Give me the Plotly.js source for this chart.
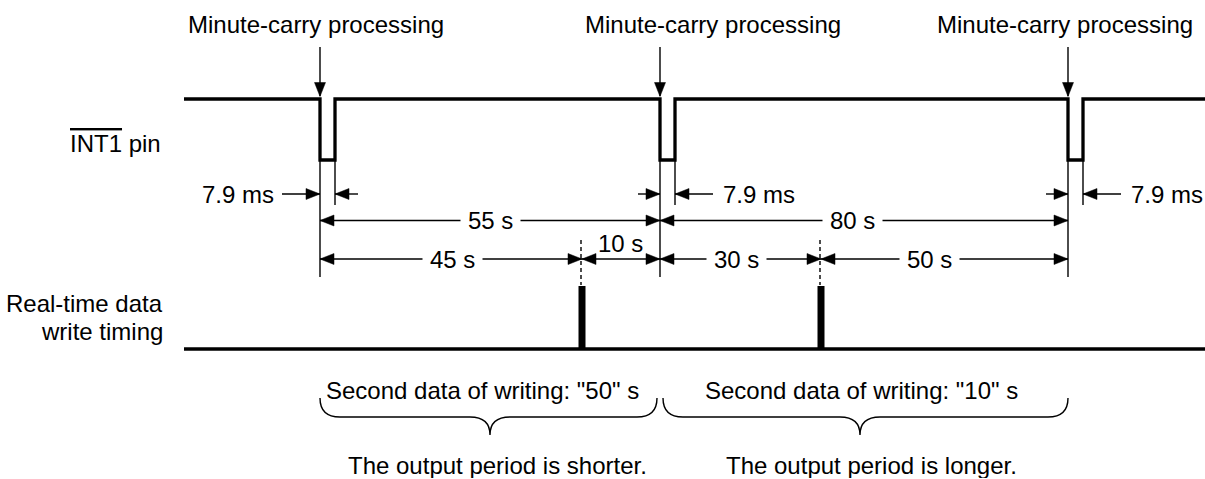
<!DOCTYPE html>
<html>
<head>
<meta charset="utf-8">
<script src="https://cdn.plot.ly/plotly-3.0.1.min.js"></script>
<style>html,body{margin:0;padding:0;background:#fff;}#chart{width:1205px;height:479px;}</style>
</head>
<body>
<div id="chart"></div>
<script>
// ---- Data (schematic timeline positions) ----
const carryX = [320, 660, 1068];            // minute-carry events (INT1 falls)
const carryLabelX = [316, 713, 1065];       // label anchor for each event
const carryLabel = 'Minute-carry processing';
const writeX = [582, 821];                  // real-time data write moments
const pulseLabel = '7.9 ms';
const pulseLabelSide = ['left', 'right', 'right'];
const upperSpanLabels = ['55 s', '80 s'];              // carry -> carry
const upperLabelX = [490, 852];
const lowerSpanLabels = ['45 s', '10 s', '30 s', '50 s']; // carry/write events in order
const lowerLabelX = [452, 620, 736, 929];
const braceTopLabels = ['Second data of writing: "50" s', 'Second data of writing: "10" s'];
const braceTopX = [482, 861];
const braceBottomLabels = ['The output period is shorter.', 'The output period is longer.'];
const braceBottomX = [497, 871];
const rowLabels = ['INT1', ' pin', 'Real-time data', 'write timing'];

// ---- Geometry constants ----
const X0 = 184, X1 = 1205;
const HI = 99, LO = 160;        // INT1 levels
const PW = 15;                  // pulse width on diagram
const WBASE = 349, WTOP = 286;  // write timing baseline / pulse top
const Y_PULSEDIM = 194, Y_UP = 220.5, Y_LOW = 259;
const AL = 14, AH = 5.5;        // arrowhead length / half height
const FONT = {family: 'Liberation Sans, Arial, sans-serif', size: 24, color: '#000'};

const traces = [];
// INT1 waveform
const wx = [X0], wy = [HI];
carryX.forEach(x => { wx.push(x, x, x + PW, x + PW); wy.push(HI, LO, LO, HI); });
wx.push(X1); wy.push(HI);
traces.push({x: wx, y: wy, mode: 'lines', line: {color: '#000', width: 3.3, shape: 'linear'}, hoverinfo: 'skip'});
// write timing baseline
traces.push({x: [X0, X1], y: [WBASE, WBASE], mode: 'lines', line: {color: '#000', width: 3.4}, hoverinfo: 'skip'});
// write pulses
writeX.forEach(x => traces.push({x: [x, x], y: [WBASE, WTOP], mode: 'lines', line: {color: '#000', width: 7}, hoverinfo: 'skip'}));

const shapes = [];
const thin = {color: '#000', width: 1.4};
function line(x0, y0, x1, y1, extra) {
  shapes.push(Object.assign({type: 'line', xref: 'x', yref: 'y', x0, y0, x1, y1, line: thin}, extra || {}));
}
function head(x, y, dir) {
  let p;
  if (dir === 'r') p = `M${x},${y} L${x - AL},${y - AH} L${x - AL},${y + AH} Z`;
  else if (dir === 'l') p = `M${x},${y} L${x + AL},${y - AH} L${x + AL},${y + AH} Z`;
  else p = `M${x},${y} L${x - AH},${y - AL} L${x + AH},${y - AL} Z`;
  shapes.push({type: 'path', xref: 'x', yref: 'y', path: p, fillcolor: '#000', line: {color: '#000', width: 0.5}});
}
function span(a, b, y) { line(a, y, b, y); head(a, y, 'l'); head(b, y, 'r'); }

// down arrows at minute-carry
carryX.forEach(x => { line(x, 47, x, 96); head(x, 96.5, 'd'); });
// extension lines
carryX.forEach(x => { line(x, LO, x, 277); line(x + PW, LO, x + PW, 205); });
// 7.9 ms dimension (arrows pointing inward)
carryX.forEach((x, i) => {
  const leftTail = pulseLabelSide[i] === 'left' ? 38 : 22;
  const rightTail = pulseLabelSide[i] === 'left' ? 23 : 38;
  line(x - leftTail, Y_PULSEDIM, x, Y_PULSEDIM); head(x, Y_PULSEDIM, 'r');
  line(x + PW + rightTail, Y_PULSEDIM, x + PW, Y_PULSEDIM); head(x + PW, Y_PULSEDIM, 'l');
});
// upper spans (carry -> carry)
for (let i = 0; i < carryX.length - 1; i++) span(carryX[i], carryX[i + 1], Y_UP);
// lower spans
const events = carryX.concat(writeX).sort((a, b) => a - b);
for (let i = 0; i < events.length - 1; i++) span(events[i], events[i + 1], Y_LOW);
// dashed lines at write moments
writeX.forEach(x => line(x - 1, 240, x - 1, 285, {line: {color: '#000', width: 1.4, dash: '4px,3px'}}));
// braces
function brace(a, b, tip) {
  const y0 = 398, y1 = 417, y2 = 435, r = 20;
  const p = `M${a},${y0} Q${a},${y1} ${a + r},${y1} L${tip - r},${y1} Q${tip},${y1} ${tip},${y2} ` +
            `Q${tip},${y1} ${tip + r},${y1} L${b - r},${y1} Q${b},${y1} ${b},${y0}`;
  shapes.push({type: 'path', xref: 'x', yref: 'y', path: p, line: {color: '#000', width: 1.4}});
}
brace(carryX[0], carryX[1] - 3, (carryX[0] + carryX[1]) / 2);
brace(carryX[1] + 3, carryX[2], 860);

// ---- annotations ----
const ann = [];
function txt(text, x, y, xanchor, extra) {
  ann.push(Object.assign({text, x, y, xref: 'x', yref: 'y', showarrow: false, xanchor: xanchor || 'center', yanchor: 'middle', font: FONT}, extra || {}));
}
carryLabelX.forEach(x => txt(carryLabel, x, 24));
txt('<span style="text-decoration:overline">' + rowLabels[0] + '</span>' + rowLabels[1], 163, 143, 'right');
txt(rowLabels[2], 165, 303, 'right');
txt(rowLabels[3], 165, 331, 'right');
carryX.forEach((x, i) => {
  if (pulseLabelSide[i] === 'left') txt(pulseLabel, x - 44, Y_PULSEDIM, 'right');
  else txt(pulseLabel, x + PW + 46, Y_PULSEDIM, 'left');
});
upperSpanLabels.forEach((t, i) => txt(t, upperLabelX[i], Y_UP, 'center', {bgcolor: '#fff', borderpad: 7}));
lowerSpanLabels.forEach((t, i) => {
  if (t === '10 s') txt(t, lowerLabelX[i], 243);
  else txt(t, lowerLabelX[i], Y_LOW, 'center', {bgcolor: '#fff', borderpad: 7});
});
braceTopLabels.forEach((t, i) => txt(t, braceTopX[i], 390));
braceBottomLabels.forEach((t, i) => txt(t, braceBottomX[i], 465, 'center', {height: 26}));

const layout = {
  width: 1205, height: 479,
  margin: {l: 0, r: 0, t: 0, b: 0},
  paper_bgcolor: '#fff', plot_bgcolor: '#fff',
  showlegend: false,
  xaxis: {range: [0, 1205], visible: false, fixedrange: true},
  yaxis: {range: [479, 0], visible: false, fixedrange: true},
  shapes, annotations: ann
};
Plotly.newPlot('chart', traces, layout, {staticPlot: true, displayModeBar: false});
</script>
</body>
</html>
